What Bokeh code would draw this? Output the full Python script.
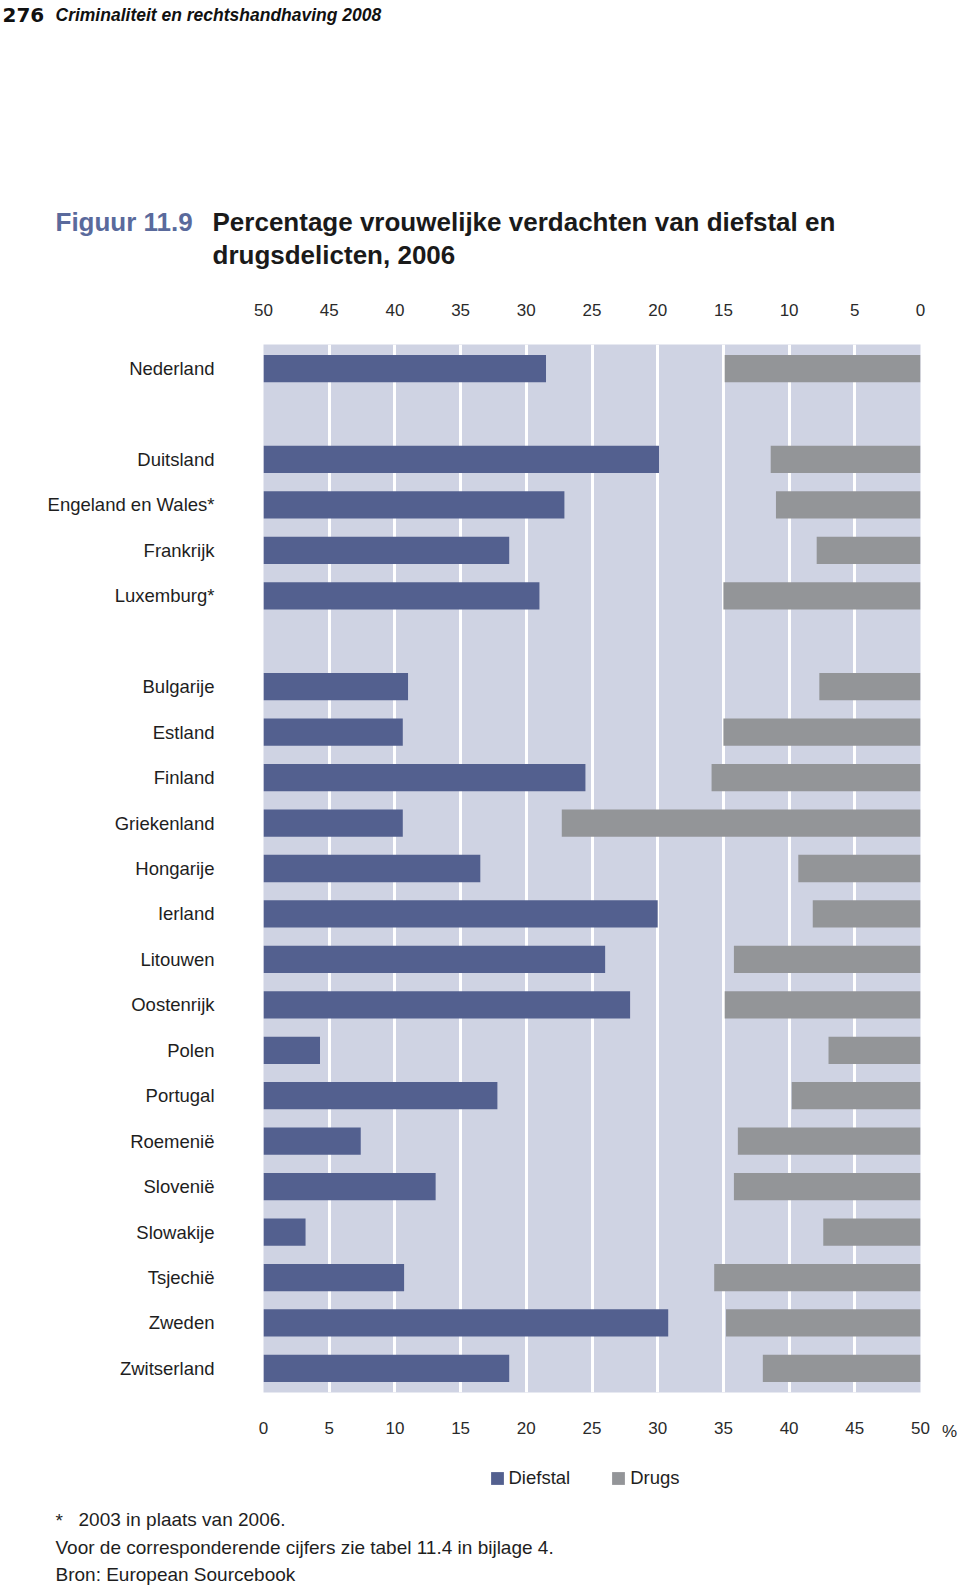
from bokeh.plotting import figure
from bokeh.layouts import column, row
from bokeh.models import (Range1d, LinearAxis, FixedTicker, Label,
                          ColumnDataSource, Legend, LegendItem)
from bokeh.embed import file_html
from bokeh.resources import INLINE

# ---------------- data ----------------
group_top = ["Nederland"]
group_mid = ["Duitsland", "Engeland en Wales*", "Frankrijk", "Luxemburg*"]
group_low = ["Bulgarije", "Estland", "Finland", "Griekenland", "Hongarije", "Ierland",
             "Litouwen", "Oostenrijk", "Polen", "Portugal", "Roemenië", "Slovenië",
             "Slowakije", "Tsjechië", "Zweden", "Zwitserland"]

diefstal = [21.5,
            30.1, 22.9, 18.7, 21.0,
            11.0, 10.6, 24.5, 10.6, 16.5, 30.0, 26.0, 27.9, 4.3, 17.8, 7.4, 13.1,
            3.2, 10.7, 30.8, 18.7]
drugs = [14.9,
         11.4, 11.0, 7.9, 15.0,
         7.7, 15.0, 15.9, 27.3, 9.3, 8.2, 14.2, 14.9, 7.0, 9.8, 13.9, 14.2,
         7.4, 15.7, 14.8, 12.0]

ticks = [0, 5, 10, 15, 20, 25, 30, 35, 40, 45, 50]
grid_ticks = [5, 10, 15, 20, 25, 30, 35, 40, 45]

series_names = ["Diefstal", "Drugs"]
header_line = "Criminaliteit en rechtshandhaving 2008"
page_no = "276"
fig_no = "Figuur 11.9"
title_lines = ["Percentage vrouwelijke verdachten van diefstal en",
               "drugsdelicten, 2006"]
notes = ["2003 in plaats van 2006.",
         "Voor de corresponderende cijfers zie tabel 11.4 in bijlage 4.",
         "Bron: European Sourcebook"]
unit = "%"

# ---------------- rows (blank row between groups) ----------------
groups = [group_top, group_mid, group_low]
countries, rows = [], []
r = 0
for g in groups:
    for c in g:
        countries.append(c)
        rows.append(r)
        r += 1
    r += 1
n_rows = r - 1

FONT = "Liberation Sans"
BLUE = "#53608f"
GREY = "#939598"
BG = "#cfd3e3"
TXT = "#1e1e1e"
SLATE = "#5a6a9c"

TOTAL_W = 960
HEAD_H = 290
MAIN_BOTTOM = 1445
MAIN_H = MAIN_BOTTOM - HEAD_H
FOOT_H = 1588 - MAIN_BOTTOM
PCT_W = 30
MAIN_W = TOTAL_W - PCT_W
FRAME_L, FRAME_R, FRAME_T, FRAME_B = 263, 920, 344, 1392


def text_fig(w, h):
    f = figure(width=w, height=h, output_backend="svg", toolbar_location=None,
               x_range=Range1d(0, w), y_range=Range1d(h, 0),
               x_axis_location=None, y_axis_location=None, title=None,
               min_border=0, min_border_left=0, min_border_right=0,
               min_border_top=0, min_border_bottom=0)
    f.outline_line_color = None
    f.background_fill_color = "white"
    f.border_fill_color = "white"
    for g in f.grid:
        g.visible = False
    return f


def add_text(f, t, x, y_base, size_px, style="normal", color=TXT, font=FONT):
    # y_base: wanted baseline; Bokeh's alphabetic labels sit ~0.37em low
    f.add_layout(Label(x=x, y=y_base - 0.37 * size_px, text=t, text_font=font,
                       text_font_size=f"{size_px}px", text_font_style=style,
                       text_color=color, text_align="left",
                       text_baseline="alphabetic"))


# ---------------- header ----------------
head = text_fig(TOTAL_W, HEAD_H)
add_text(head, page_no, 2, 22, 20, "bold", "#111111", font="DejaVu Sans")
add_text(head, header_line, 55, 21.3, 17.5, "bold italic", "#111111")
add_text(head, fig_no, 55, 231, 26, "bold", SLATE)
add_text(head, title_lines[0], 212, 231, 26, "bold", "#1a1a1a")
add_text(head, title_lines[1], 212, 264, 26, "bold", "#1a1a1a")

# ---------------- main chart ----------------
Y0, Y1 = -0.53, n_rows - 1 + 0.53
p = figure(width=MAIN_W, height=MAIN_H, output_backend="svg", toolbar_location=None,
           x_range=Range1d(0, 50), y_range=Range1d(Y1, Y0),
           x_axis_location=None, y_axis_location=None, title=None,
           min_border_left=FRAME_L, min_border_right=MAIN_W - FRAME_R,
           min_border_top=FRAME_T - HEAD_H, min_border_bottom=MAIN_BOTTOM - FRAME_B)
p.background_fill_color = BG
p.border_fill_color = "white"
p.outline_line_color = None
p.ygrid.grid_line_color = None
p.xgrid.ticker = FixedTicker(ticks=grid_ticks)
p.xgrid.grid_line_color = "white"
p.xgrid.grid_line_width = 3
p.extra_x_ranges = {"drugs": Range1d(50, 0)}

src = ColumnDataSource(dict(y=rows, d=diefstal, g=drugs, zero=[0] * len(rows)))
p.hbar(y="y", left="zero", right="d", height=0.6, source=src,
       fill_color=BLUE, line_color=None)
p.hbar(y="y", left="zero", right="g", height=0.6, source=src,
       fill_color=GREY, line_color=None, x_range_name="drugs")


def style_axis(ax, standoff, size="17px"):
    ax.axis_line_color = None
    ax.major_tick_line_color = None
    ax.minor_tick_line_color = None
    ax.major_tick_out = 0
    ax.major_tick_in = 0
    ax.major_label_standoff = standoff
    ax.major_label_text_font = FONT
    ax.major_label_text_font_size = size
    ax.major_label_text_color = "#2a2a2a"


bottom_ax = LinearAxis(ticker=FixedTicker(ticks=ticks))
style_axis(bottom_ax, 29)
p.add_layout(bottom_ax, "below")

top_ax = LinearAxis(x_range_name="drugs", ticker=FixedTicker(ticks=ticks))
style_axis(top_ax, 29)
p.add_layout(top_ax, "above")

left_ax = LinearAxis(ticker=FixedTicker(ticks=rows),
                     major_label_overrides={rr: c for rr, c in zip(rows, countries)})
style_axis(left_ax, 49, "18.5px")
left_ax.major_label_text_color = TXT
p.add_layout(left_ax, "left")

# ---------------- unit "%" beside the bottom axis (frames align in a row) ----------------
pct = figure(width=PCT_W, height=MAIN_H, output_backend="svg", toolbar_location=None,
             x_range=Range1d(0, PCT_W), y_range=Range1d(0, 1),
             x_axis_location=None, y_axis_location=None, title=None,
             min_border=0, min_border_left=0, min_border_right=0,
             min_border_top=FRAME_T - HEAD_H, min_border_bottom=MAIN_BOTTOM - FRAME_B)
pct.outline_line_color = None
pct.background_fill_color = "white"
for g in pct.grid:
    g.visible = False
unit_ax = LinearAxis(ticker=FixedTicker(ticks=[949 - MAIN_W]),
                     major_label_overrides={949 - MAIN_W: unit})
style_axis(unit_ax, 29)
pct.add_layout(unit_ax, "below")

# ---------------- footer: legend + notes ----------------
foot = text_fig(TOTAL_W, FOOT_H)
# the same series (hidden here) feed the legend swatches
k1 = foot.hbar(y="y", left="zero", right="d", height=0.6, source=src,
               fill_color=BLUE, line_color=None, visible=False)
k2 = foot.hbar(y="y", left="zero", right="g", height=0.6, source=src,
               fill_color=GREY, line_color=None, visible=False)
legend = Legend(items=[LegendItem(label=series_names[0], renderers=[k1]),
                       LegendItem(label=series_names[1], renderers=[k2])],
                location=(488.5, 1588 - 1489), orientation="horizontal",
                glyph_width=16, glyph_height=16, label_standoff=4, spacing=40,
                padding=0, margin=0, border_line_color=None,
                background_fill_alpha=0, click_policy="none",
                label_text_font=FONT, label_text_font_size="18.5px",
                label_text_color=TXT)
foot.add_layout(legend)

add_text(foot, "*", 55, 1527 - MAIN_BOTTOM, 19)
add_text(foot, notes[0], 78, 1526.5 - MAIN_BOTTOM, 19)
add_text(foot, notes[1], 55, 1554 - MAIN_BOTTOM, 19)
add_text(foot, notes[2], 55, 1581.5 - MAIN_BOTTOM, 19)

layout = column(head, row(p, pct, spacing=0), foot, spacing=0)
open("out.html", "w").write(file_html(layout, INLINE))
